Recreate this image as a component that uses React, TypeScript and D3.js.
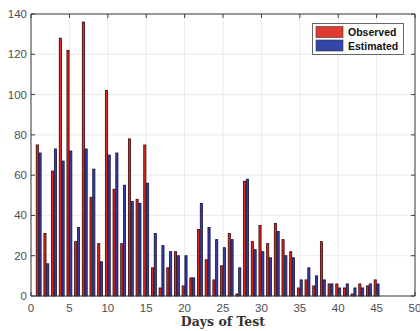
import React from "react";
import * as d3 from "d3";

const days = d3.range(1, 46);
const observed = [75, 31, 62, 128, 122, 27, 136, 49, 26, 102, 53, 26, 78, 48, 75, 14, 4, 14, 22, 5, 9, 33, 18, 8, 15, 31, 1, 57, 27, 35, 26, 36, 28, 22, 4, 8, 5, 27, 6, 6, 4, 1, 6, 5, 8];
const estimated = [71, 16, 73, 67, 72, 34, 73, 63, 17, 70, 71, 55, 47, 46, 56, 31, 25, 22, 20, 20, 9, 46, 34, 28, 24, 28, 14, 58, 23, 22, 19, 32, 20, 19, 8, 14, 10, 8, 6, 4, 6, 4, 4, 6, 6];
const xTicks = d3.range(0, 51, 5);
const yTicks = d3.range(0, 141, 20);
const seriesNames = ["Observed", "Estimated"];
const seriesFill = ["#e0271f", "#3a3fa6"];
const legendFill = ["#e03a30", "#3447a8"];
const seriesStroke = ["#3a0505", "#10103a"];

export default function App() {
  const W = 420, H = 331;
  const L = 31, R = 415, T = 14, B = 296;
  const x = d3.scaleLinear().domain([0, 50]).range([L, R]);
  const y = d3.scaleLinear().domain([0, 140]).range([B, T]);
  const tickFont = "'Liberation Sans', Arial, Helvetica, sans-serif";
  const series = [observed, estimated];
  const offsets = [[-0.32, -0.04], [0.04, 0.32]];

  return (
    <svg width={W} height={H} style={{ position: "absolute", left: 0, top: 0, background: "#fff" }}>
      <rect x={0} y={0} width={W} height={H} fill="#fff" />
      {xTicks.map((t) => (
        <line key={"gx" + t} x1={x(t)} x2={x(t)} y1={T} y2={B} stroke="#e6e6e6" strokeWidth={0.8} />
      ))}
      {yTicks.map((t) => (
        <line key={"gy" + t} x1={L} x2={R} y1={y(t)} y2={y(t)} stroke="#e6e6e6" strokeWidth={0.8} />
      ))}
      {series.map((vals, si) =>
        days.map((d, i) => {
          const x0 = x(d + offsets[si][0]);
          const x1 = x(d + offsets[si][1]);
          return (
            <rect
              key={si + "-" + d}
              x={x0}
              y={y(vals[i])}
              width={x1 - x0}
              height={y(0) - y(vals[i])}
              fill={seriesFill[si]}
              stroke={seriesStroke[si]}
              strokeWidth={0.8}
            />
          );
        })
      )}
      <line x1={L} x2={R} y1={B} y2={B} stroke="#3c3c3c" strokeWidth={1.2} />
      <line x1={L} x2={R} y1={T} y2={T} stroke="#3c3c3c" strokeWidth={1} />
      <line x1={L} x2={L} y1={T} y2={B} stroke="#5a5a5a" strokeWidth={1.2} />
      <line x1={R} x2={R} y1={T} y2={B} stroke="#3c3c3c" strokeWidth={1} />
      {xTicks.map((t) => (
        <g key={"xt" + t}>
          <line x1={x(t)} x2={x(t)} y1={B} y2={B - 4} stroke="#3c3c3c" strokeWidth={1} />
          <line x1={x(t)} x2={x(t)} y1={T} y2={T + 4} stroke="#3c3c3c" strokeWidth={1} />
          <text x={x(t)} y={B + 16} textAnchor="middle" fontFamily={tickFont} fontSize={11.5} fill="#4d4d4d">
            {t}
          </text>
        </g>
      ))}
      {yTicks.map((t) => (
        <g key={"yt" + t}>
          <line x1={L} x2={L + 4} y1={y(t)} y2={y(t)} stroke="#3c3c3c" strokeWidth={1} />
          <line x1={R} x2={R - 4} y1={y(t)} y2={y(t)} stroke="#3c3c3c" strokeWidth={1} />
          <text x={L - 4} y={y(t) + 4} textAnchor="end" fontFamily={tickFont} fontSize={11.5} fill="#4d4d4d">
            {t}
          </text>
        </g>
      ))}
      <text
        x={(L + R) / 2}
        y={326}
        textAnchor="middle"
        fontFamily="'DejaVu Serif', 'Liberation Serif', serif"
        fontWeight="bold"
        fontSize={12.5}
        fill="#333"
      >
        Days of Test
      </text>
      <rect x={312.5} y={23.5} width={91} height={31} fill="#fff" stroke="#444" strokeWidth={0.8} />
      {seriesNames.map((n, i) => (
        <g key={n}>
          <rect x={316} y={26.5 + i * 13.5} width={27} height={11} fill={legendFill[i]} stroke="#333" strokeWidth={0.6} />
          <text x={348} y={36 + i * 13.5} fontFamily={tickFont} fontWeight="bold" fontSize={10.5} fill="#111">
            {n}
          </text>
        </g>
      ))}
    </svg>
  );
}
